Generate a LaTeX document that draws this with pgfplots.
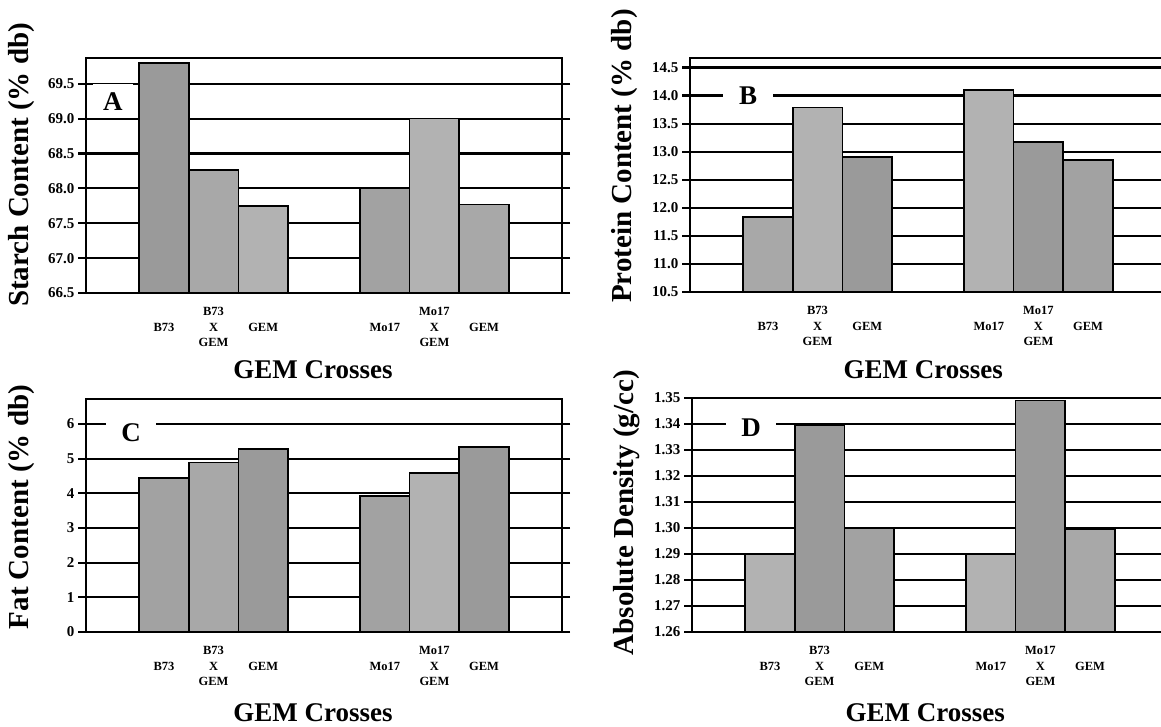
\documentclass[border=0pt]{standalone}
\usepackage{fontspec}
\setmainfont{Liberation Serif}
\usepackage{pgfplots}
\pgfplotsset{compat=1.18}
\definecolor{ga}{HTML}{9A9A9A}
\definecolor{gb}{HTML}{A8A8A8}
\definecolor{gc}{HTML}{B2B2B2}
\definecolor{gd}{HTML}{A2A2A2}
\tikzset{
  lett/.style={fill=white, inner sep=0pt, minimum width=48pt, minimum height=34pt, font=\fontsize{27}{30}\selectfont\bfseries},
}
\pgfplotsset{
  gem/.style={
    scale only axis, width=476pt,
    xmin=-1.57, xmax=8.02,
    axis line style={line width=2.2pt, black},
    ymajorgrids=true,
    major grid style={line width=2.2pt, draw=black},
    tick align=outside, major tick length=8pt,
    ytick style={line width=2.2pt, black},
    xtick={0,1,2,4.45,5.45,6.45},
    xtick style={draw=none},
    xticklabels={B73, {B73\\X\\GEM}, GEM, Mo17, {Mo17\\X\\GEM}, GEM},
    xticklabel style={font=\fontsize{12.5}{15.5}\selectfont\bfseries, align=center, anchor=center, yshift=-26pt},
    yticklabel style={font=\fontsize{15}{18}\selectfont\bfseries},
    /pgf/number format/assume math mode=true,
    ylabel style={font=\fontsize{29}{34}\selectfont\bfseries, anchor=center},
    xlabel style={font=\fontsize{27}{32}\selectfont\bfseries, anchor=base},
    every axis plot/.append style={ybar, bar width=1, bar shift=0pt, draw=black, line width=1.6pt},
  },
}
\begin{document}
\begin{tikzpicture}
\useasboundingbox (0,0) rectangle (1161pt,726pt);
% Panel A
\begin{axis}[gem, at={(86pt,433pt)}, anchor=south west, height=235pt,
  ymin=66.5, ymax=69.87, ytick={66.5,67,67.5,68,68.5,69,69.5},
  yticklabel style={/pgf/number format/.cd, fixed, fixed zerofill, precision=1},
  ylabel={Starch Content (\% db)},
  ylabel style={at={(rel axis cs:-0.1345,0.545)}},
  xlabel={GEM Crosses},
  xlabel style={at={(rel axis cs:0.477,0)}, yshift=-85pt}]
\addplot[fill=ga] coordinates {(0,69.80)};
\addplot[fill=gb] coordinates {(1,68.26)};
\addplot[fill=gc] coordinates {(2,67.75)};
\addplot[fill=gd] coordinates {(4.45,68.00)};
\addplot[fill=gc] coordinates {(5.45,69.00)};
\addplot[fill=gb] coordinates {(6.45,67.77)};
\node[lett, minimum width=40pt] at (axis cs:-1.03,69.25) {A};
\end{axis}
% Panel B
\begin{axis}[gem, at={(690pt,434pt)}, anchor=south west, height=234pt,
  ymin=10.5, ymax=14.67, ytick={10.5,11,11.5,12,12.5,13,13.5,14,14.5},
  yticklabel style={/pgf/number format/.cd, fixed, fixed zerofill, precision=1},
  ylabel={Protein Content (\% db)},
  ylabel style={at={(rel axis cs:-0.1366,0.581)}},
  xlabel={GEM Crosses},
  xlabel style={at={(rel axis cs:0.49,0)}, yshift=-86pt}]
\addplot[fill=gb] coordinates {(0,11.84)};
\addplot[fill=gc] coordinates {(1,13.79)};
\addplot[fill=ga] coordinates {(2,12.91)};
\addplot[fill=gc] coordinates {(4.45,14.10)};
\addplot[fill=ga] coordinates {(5.45,13.17)};
\addplot[fill=gd] coordinates {(6.45,12.85)};
\node[lett, minimum width=50pt] at (axis cs:-0.40,14.0) {B};
\end{axis}
% Panel C
\begin{axis}[gem, at={(86pt,94pt)}, anchor=south west, height=233pt,
  ymin=0, ymax=6.72, ytick={0,1,2,3,4,5,6},
  ylabel={Fat Content (\% db)},
  ylabel style={at={(rel axis cs:-0.1345,0.536)}},
  xlabel={GEM Crosses},
  xlabel style={at={(rel axis cs:0.477,0)}, yshift=-89pt}]
\addplot[fill=gd] coordinates {(0,4.44)};
\addplot[fill=gb] coordinates {(1,4.89)};
\addplot[fill=ga] coordinates {(2,5.28)};
\addplot[fill=gd] coordinates {(4.45,3.92)};
\addplot[fill=gc] coordinates {(5.45,4.59)};
\addplot[fill=ga] coordinates {(6.45,5.34)};
\node[lett, minimum width=50pt] at (axis cs:-0.66,5.76) {C};
\end{axis}
% Panel D
\begin{axis}[gem, at={(692pt,94pt)}, anchor=south west, height=234pt,
  ymin=1.26, ymax=1.35, ytick={1.26,1.27,1.28,1.29,1.30,1.31,1.32,1.33,1.34,1.35},
  yticklabel style={/pgf/number format/.cd, fixed, fixed zerofill, precision=2},
  ylabel={Absolute Density (g/cc)},
  ylabel style={at={(rel axis cs:-0.1366,0.51)}},
  xlabel={GEM Crosses},
  xlabel style={at={(rel axis cs:0.49,0)}, yshift=-89pt}]
\addplot[fill=gc] coordinates {(0,1.290)};
\addplot[fill=ga] coordinates {(1,1.3395)};
\addplot[fill=gd] coordinates {(2,1.300)};
\addplot[fill=gc] coordinates {(4.45,1.290)};
\addplot[fill=ga] coordinates {(5.45,1.349)};
\addplot[fill=gb] coordinates {(6.45,1.2995)};
\node[lett, minimum width=50pt] at (axis cs:-0.38,1.3385) {D};
\end{axis}
\end{tikzpicture}
\end{document}
